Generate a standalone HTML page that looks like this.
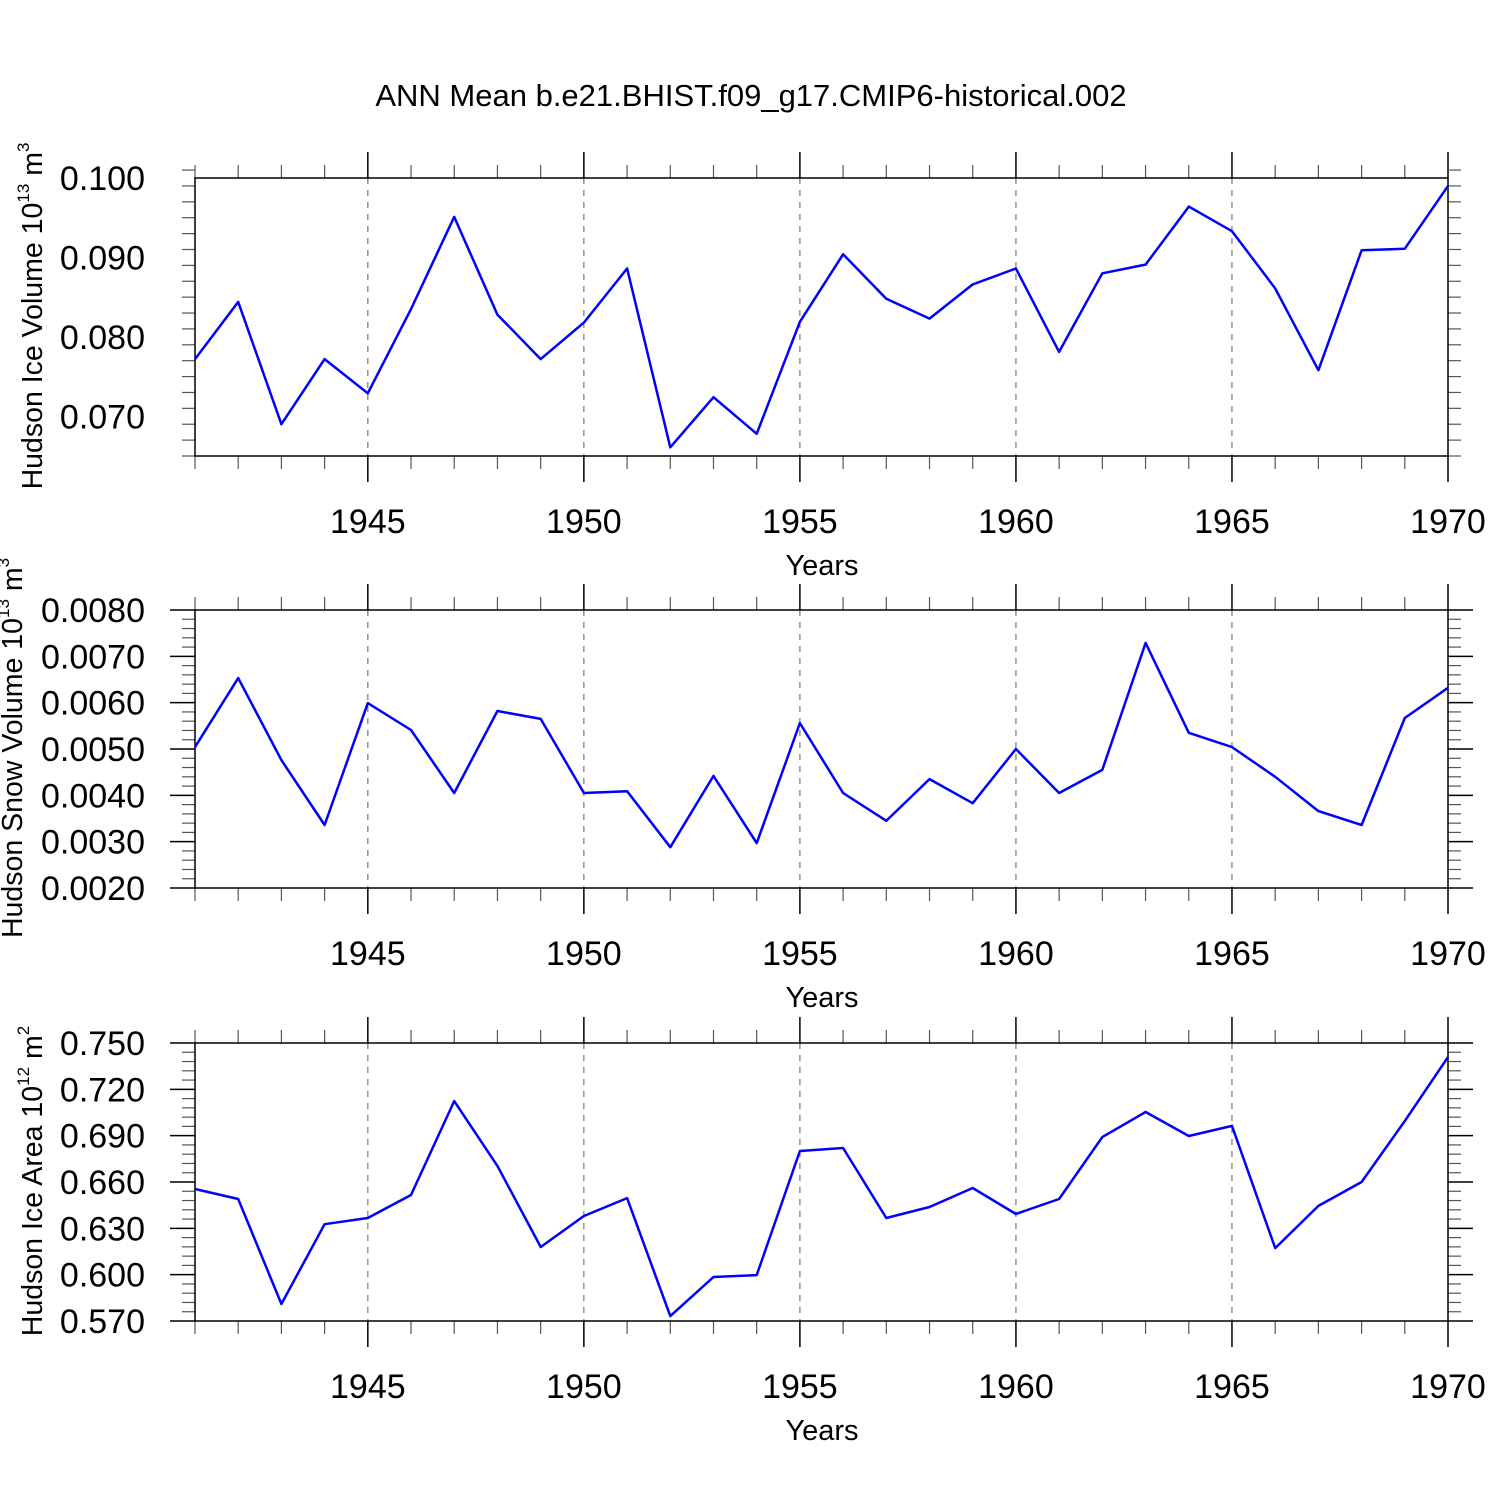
<!DOCTYPE html>
<html><head><meta charset="utf-8"><style>
html,body{margin:0;padding:0;background:#fff}
svg{display:block;font-family:"Liberation Sans",sans-serif}
</style></head><body>
<svg id="chart" width="1500" height="1500">
<text x="751" y="106" font-size="31" text-anchor="middle">ANN Mean b.e21.BHIST.f09_g17.CMIP6-historical.002</text>
</svg>
<script>
const years = [1941,1942,1943,1944,1945,1946,1947,1948,1949,1950,1951,1952,1953,1954,1955,1956,1957,1958,1959,1960,1961,1962,1963,1964,1965,1966,1967,1968,1969,1970];
const iceVolume = [0.0772,0.0844,0.069,0.0772,0.0729,0.0835,0.0951,0.0828,0.0772,0.0818,0.0886,0.0661,0.0724,0.0678,0.0819,0.0904,0.0848,0.0823,0.0866,0.0886,0.0781,0.088,0.0891,0.0964,0.0933,0.0861,0.0758,0.0909,0.0911,0.099];
const snowVolume = [0.00504,0.00653,0.00476,0.00336,0.00599,0.00541,0.00405,0.00582,0.00565,0.00405,0.00409,0.00288,0.00442,0.00297,0.00556,0.00405,0.00345,0.00435,0.00383,0.005,0.00405,0.00455,0.00729,0.00535,0.00504,0.0044,0.00366,0.00336,0.00567,0.00632];
const iceArea = [0.6555,0.649,0.581,0.6327,0.6367,0.6516,0.7124,0.6704,0.6179,0.638,0.6496,0.5732,0.5985,0.5997,0.6801,0.682,0.6367,0.6438,0.6561,0.6393,0.649,0.6891,0.7053,0.6898,0.6963,0.6172,0.6445,0.66,0.6995,0.7409];
const xTickYears = [1945,1950,1955,1960,1965,1970];
const ticks1 = ["0.070","0.080","0.090","0.100"];
const ticks2 = ["0.0020","0.0030","0.0040","0.0050","0.0060","0.0070","0.0080"];
const ticks3 = ["0.570","0.600","0.630","0.660","0.690","0.720","0.750"];

const NS="http://www.w3.org/2000/svg";
const svg=document.getElementById('chart');
function mk(tag,attrs,parent){const e=document.createElementNS(NS,tag);for(const k in attrs)e.setAttribute(k,attrs[k]);(parent||svg).appendChild(e);return e;}
const X0=195,X1=1448,YMIN=1941,YMAX=1970;
function xs(yr){return X0+(yr-YMIN)*(X1-X0)/(YMAX-YMIN);}

const panels=[
 {top:178,bottom:456,vmin:0.065,vmax:0.1,vTop:0.1,major:0.01,minor:0.002,ticks:ticks1,data:iceVolume,name:'ice-volume',title:['Hudson Ice Volume 10','13',' m','3'],tx:32},
 {top:610,bottom:888,vmin:0.002,vmax:0.008,vTop:0.008,major:0.001,minor:0.0002,ticks:ticks2,data:snowVolume,name:'snow-volume',title:['Hudson Snow Volume 10','13',' m','3'],tx:12},
 {top:1043,bottom:1321,vmin:0.57,vmax:0.75,vTop:0.75,major:0.03,minor:0.006,ticks:ticks3,data:iceArea,name:'ice-area',title:['Hudson Ice Area 10','12',' m','2'],tx:32}
];
panels.forEach((p)=>{
  const g=mk('g',{});
  
  
  const ys=v=>p.bottom-(v-p.vmin)*(p.bottom-p.top)/(p.vmax-p.vmin);
  xTickYears.forEach(yr=>{ if(yr<YMAX){const l=mk('line',{x1:xs(yr),x2:xs(yr),y1:p.top,y2:p.bottom,stroke:'#777','stroke-width':1.2,'stroke-dasharray':'6,6'},g);
    
    }});
  years.forEach(yr=>{const x=xs(yr);const maj=xTickYears.includes(yr);const len=maj?26:13;
    mk('line',{x1:x,x2:x,y1:p.top-len,y2:p.top,stroke:maj?'#000':'#555','stroke-width':maj?1.5:1.2},g);
    mk('line',{x1:x,x2:x,y1:p.bottom,y2:p.bottom+len,stroke:maj?'#000':'#555','stroke-width':maj?1.5:1.2},g);});
  const nMin=Math.round((p.vmax-p.vmin)/p.minor);
  for(let i=0;i<=nMin;i++){const v=p.vmin+i*p.minor;const y=ys(v);
    const rel=(p.vTop-v)/p.major;const maj=Math.abs(rel-Math.round(rel))<1e-6;
    const len=maj?25:13;
    mk('line',{x1:X0-len,x2:X0,y1:y,y2:y,stroke:maj?'#000':'#555','stroke-width':maj?1.5:1.2},g);
    mk('line',{x1:X1,x2:X1+len,y1:y,y2:y,stroke:maj?'#000':'#555','stroke-width':maj?1.5:1.2},g);}
  p.ticks.forEach(t=>{const tx=mk('text',{x:145,y:ys(parseFloat(t))+12,'font-size':34,'text-anchor':'end'},g);tx.textContent=t;
    
    });
  xTickYears.forEach(yr=>{const tx=mk('text',{x:xs(yr),y:p.bottom+77,'font-size':34,'text-anchor':'middle'},g);tx.textContent=yr;
    
    });
  const fr=mk('rect',{x:X0,y:p.top,width:X1-X0,height:p.bottom-p.top,fill:'none',stroke:'#000','stroke-width':1.5},g);
  
  
  const pts=years.map((yr,i)=>xs(yr).toFixed(1)+','+ys(p.data[i]).toFixed(1)).join(' ');
  const pl=mk('polyline',{points:pts,fill:'none',stroke:'#0000ff','stroke-width':2.5,'stroke-linejoin':'round'},g);
  
  
  const xt=mk('text',{x:822,y:p.bottom+119,'font-size':29,'text-anchor':'middle'},g);xt.textContent='Years';
  
  
  const cy=(p.top+p.bottom)/2-1;
  const yt=mk('text',{x:0,y:0,'font-size':28.5,'text-anchor':'middle',transform:`translate(${p.tx+10},${cy}) rotate(-90)`},g);
  
  
  p.title.forEach((s,i)=>{const ts=mk('tspan',{},yt);ts.textContent=s;
    if(i%2===1){ts.setAttribute('font-size','17');ts.setAttribute('dy','-13');}
    else if(i>0){ts.setAttribute('dy','13');}});
});
</script>
</body></html>
